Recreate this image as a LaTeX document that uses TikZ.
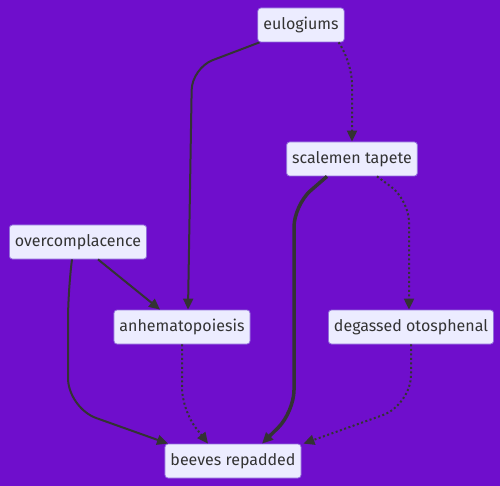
\documentclass[tikz,border=0pt]{standalone}
\usepackage{fontspec}
\setmainfont{Fira Sans}
\usetikzlibrary{arrows.meta}
\definecolor{bgpurple}{RGB}{111,14,204}
\definecolor{boxfill}{RGB}{236,236,255}
\definecolor{boxline}{RGB}{147,112,219}
\definecolor{inkgrey}{RGB}{51,51,51}
\tikzset{flownode/.style={draw=boxline, fill=boxfill, rounded corners=3pt, line width=0.8pt,
    minimum height=34pt, inner xsep=5.5pt, text=inkgrey, font=\fontsize{16}{19}\selectfont},
  link/.style={draw=inkgrey, line width=2pt, rounded corners=22pt, -{Triangle[length=11pt,width=10pt]}},
  thicklink/.style={link, line width=3.5pt},
  dotlink/.style={link, dash pattern=on 2pt off 2.5pt}}

\begin{document}
\begin{tikzpicture}[x=1pt, y=-1pt]

\fill[bgpurple] (0,0) rectangle (500,486);
\useasboundingbox (0,0) rectangle (500,486);

% nodes
\node[style = flownode] (eu) at (301, 25) {eulogiums};
\node[style = flownode] (sc) at (352, 159) {scalemen tapete};
\node[style = flownode] (ov) at (78, 242) {overcomplacence};
\node[style = flownode] (an) at (182, 327) {anhematopoiesis};
\node[style = flownode] (dg) at (411, 327) {degassed otosphenal};
\node[style = flownode] (br) at (233, 461) {beeves repadded};

% edges
\draw[style = link] ([xshift=2pt]eu.south west) -- (192, 68) -- ([xshift=6pt]an.north);
\draw[style = dotlink] ([xshift=-6pt]eu.south east) -- (352, 62) -- (sc.north);
\draw[style = thicklink] ([xshift=-25pt]sc.south) -- (294, 205) -- (294, 412) -- ([xshift=29pt]br.north);
\draw[style = dotlink] ([xshift=25pt]sc.south) -- (409, 200) -- ([xshift=-2pt]dg.north);
\draw[style = link] ([xshift=20pt]ov.south) -- ([xshift=-22pt]an.north);
\draw[style = link, rounded corners=30pt] ([xshift=-6pt]ov.south) -- (68, 290) -- (68, 408) -- ([xshift=-65pt]br.north);
\draw[style = dotlink] (an.south) -- (182, 410) -- ([xshift=-25pt]br.north);
\draw[style = dotlink, rounded corners=30pt] (dg.south) -- (411, 405) -- ([xshift=2pt]br.north east);

\end{tikzpicture}
\end{document}
